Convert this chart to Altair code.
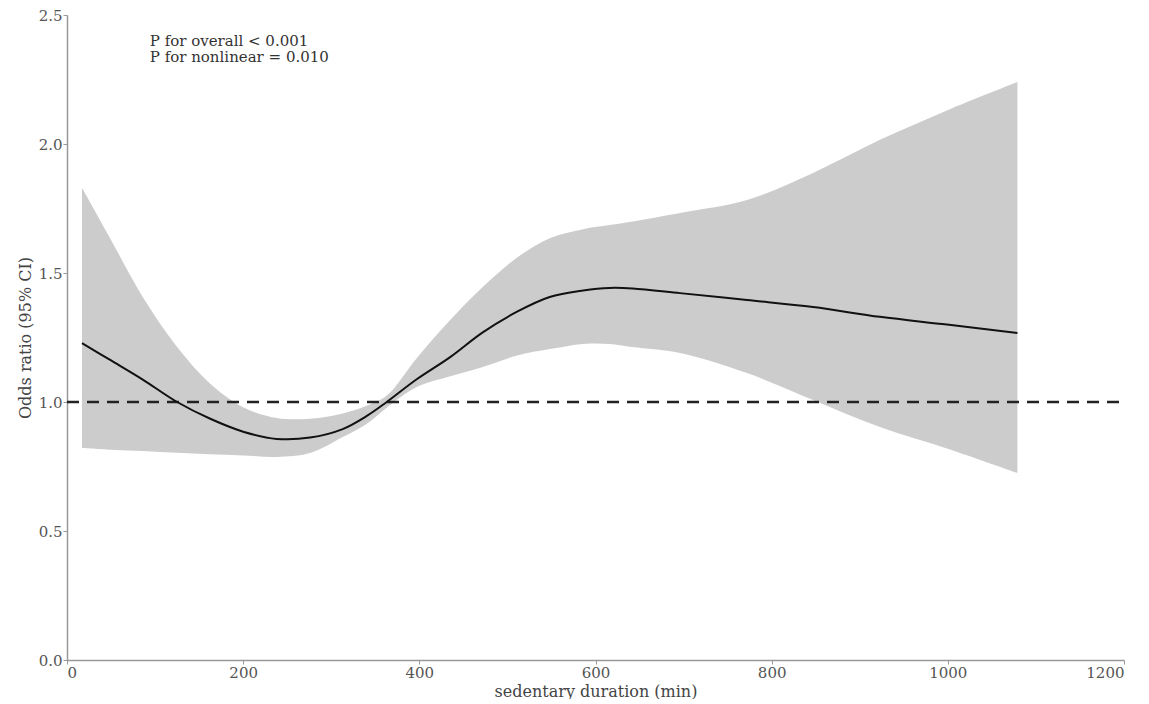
import altair as alt
import pandas as pd

# Sedentary duration (min)
duration = [17, 50, 86, 125, 162, 200, 238, 276, 313, 340, 363, 397, 435, 472,
            511, 548, 586, 616, 642, 696, 772, 847, 923, 999, 1079]
# Odds ratio estimate
odds_ratio = [1.228, 1.161, 1.087, 1.0, 0.936, 0.885, 0.857, 0.862, 0.895, 0.945,
              1.0, 1.088, 1.174, 1.27, 1.35, 1.407, 1.432, 1.442, 1.44, 1.422,
              1.395, 1.368, 1.33, 1.30, 1.267]
# 95% CI upper / lower
ci_upper = [1.83, 1.628, 1.407, 1.213, 1.073, 0.98, 0.938, 0.935, 0.955, 0.985,
            1.025, 1.17, 1.318, 1.446, 1.56, 1.635, 1.67, 1.686, 1.70, 1.733,
            1.783, 1.888, 2.016, 2.13, 2.24]
ci_lower = [0.822, 0.815, 0.81, 0.803, 0.797, 0.793, 0.787, 0.802, 0.864, 0.915,
            0.978, 1.058, 1.10, 1.136, 1.18, 1.205, 1.225, 1.225, 1.213, 1.19,
            1.112, 1.008, 0.903, 0.82, 0.725]

ref_line = [0, 1200]
ref_value = [1.0, 1.0]
annotation = ["P for overall < 0.001", "P for nonlinear = 0.010"]

df = pd.DataFrame({"x": duration, "or": odds_ratio, "hi": ci_upper, "lo": ci_lower})
ref = pd.DataFrame({"x": ref_line, "y": ref_value})
txt = pd.DataFrame({"x": [94], "y": [2.399], "t": [annotation]})

FONT = "DejaVu Serif"
INTERP = "catmull-rom"

xscale = alt.Scale(domain=[0, 1200], nice=False)
yscale = alt.Scale(domain=[0, 2.5], nice=False)

xaxis = alt.Axis(values=[0, 200, 400, 600, 800, 1000, 1200], format="d",
                 title="sedentary duration (min)", grid=False)
yaxis = alt.Axis(values=[0, 0.5, 1.0, 1.5, 2.0, 2.5], format=".1f",
                 title="Odds ratio (95% CI)", grid=False)

band = alt.Chart(df).mark_area(color="#cccccc", opacity=1, interpolate=INTERP).encode(
    x=alt.X("x:Q", scale=xscale, axis=xaxis),
    y=alt.Y("lo:Q", scale=yscale, axis=yaxis),
    y2="hi:Q",
)

line = alt.Chart(df).mark_line(color="#111111", strokeWidth=2, interpolate=INTERP).encode(
    x=alt.X("x:Q", scale=xscale),
    y=alt.Y("or:Q", scale=yscale),
)

refl = alt.Chart(ref).mark_line(color="#222222", strokeWidth=2.5, strokeDash=[12, 8]).encode(
    x=alt.X("x:Q", scale=xscale),
    y=alt.Y("y:Q", scale=yscale),
)

text = alt.Chart(txt).mark_text(align="left", baseline="middle", font=FONT, fontSize=15,
                                color="#333333", lineHeight=16).encode(
    x=alt.X("x:Q", scale=xscale),
    y=alt.Y("y:Q", scale=yscale),
    text="t",
)

chart = alt.layer(band, refl, line, text).properties(
    width=1057, height=645, padding={"left": 9, "top": 0, "right": 5, "bottom": 0}
).configure_view(stroke=None).configure_axis(
    labelFont=FONT, titleFont=FONT, labelFontSize=15, titleFontSize=16,
    labelColor="#555555", titleColor="#444444", titleFontWeight="normal",
    domainColor="#999999", tickColor="#999999", tickSize=4, domainWidth=1.5,
    labelPadding=1,
).configure_axisY(titlePadding=5).configure_axisX(titlePadding=3)

chart.save("out.html", embed_options={"renderer": "svg", "actions": False})
